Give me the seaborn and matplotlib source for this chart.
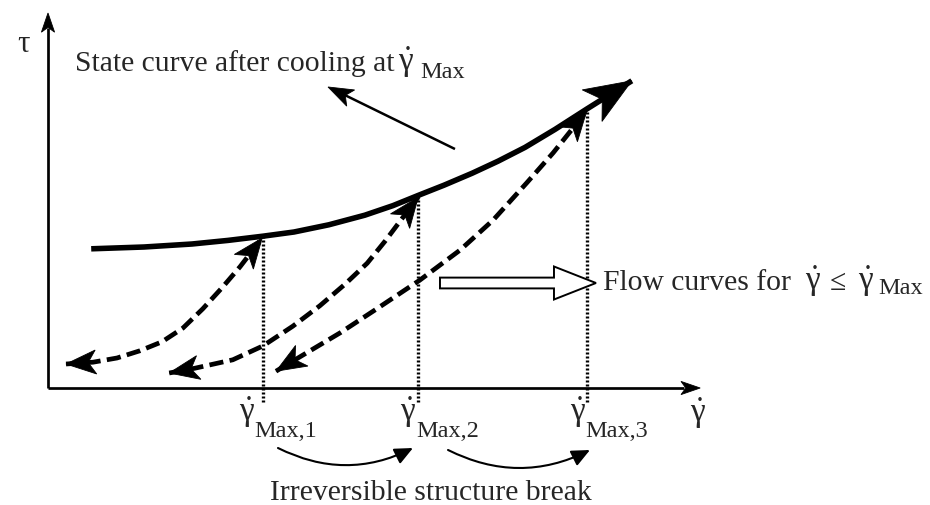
import numpy as np
import matplotlib
matplotlib.use("Agg")
import matplotlib.pyplot as plt
from matplotlib.patches import Polygon, FancyArrow
import seaborn as sns

# Shear-rate positions of the three maximum rates and their labels
gamma_max = [3.58, 6.17, 8.98]
gamma_max_labels = ["Max,1", "Max,2", "Max,3"]
gamma_max_label_x = [3.31, 6.00, 8.83]

# State curve after cooling at the maximum rate (shear rate, shear stress)
state_x = [0.72, 1.60, 2.40, 3.00, 3.58, 4.10, 4.68, 5.28, 5.75, 6.17,
           6.60, 7.07, 7.50, 7.95, 8.45, 8.98, 9.73]
state_y = [2.32, 2.35, 2.40, 2.46, 2.53, 2.60, 2.72, 2.88, 3.04, 3.21,
           3.38, 3.58, 3.78, 4.01, 4.31, 4.65, 5.12]

# Flow curves, each running from the low-rate end up to its maximum rate
flow1_x = [0.30, 0.75, 1.15, 1.53, 1.90, 2.25, 2.58, 2.90, 3.20, 3.40, 3.57]
flow1_y = [0.40, 0.43, 0.50, 0.62, 0.77, 1.00, 1.32, 1.67, 2.02, 2.28, 2.50]
flow2_x = [2.02, 2.45, 3.08, 3.58, 4.08, 4.53, 4.95, 5.32, 5.62, 5.92, 6.17]
flow2_y = [0.25, 0.33, 0.47, 0.70, 1.03, 1.37, 1.73, 2.08, 2.45, 2.85, 3.18]
flow3_x = [3.80, 4.20, 4.87, 5.48, 6.20, 6.87, 7.42, 7.98, 8.42, 8.82, 8.98]
flow3_y = [0.28, 0.52, 0.92, 1.32, 1.80, 2.30, 2.80, 3.42, 3.92, 4.42, 4.62]
flow_curves = [(flow1_x, flow1_y), (flow2_x, flow2_y), (flow3_x, flow3_y)]

sns.set_theme(style="white")
plt.rcParams["font.family"] = ["Liberation Serif", "DejaVu Serif"]
plt.rcParams["mathtext.fontset"] = "custom"
plt.rcParams["mathtext.rm"] = "Liberation Serif"
plt.rcParams["mathtext.it"] = "Liberation Serif:italic"
plt.rcParams["mathtext.bf"] = "Liberation Serif:bold"
plt.rcParams["mathtext.fallback"] = "stix"

fig = plt.figure(figsize=(9.3, 5.05), dpi=100)
ax = fig.add_axes([0, 0, 1, 1])
ax.set_xlim(-0.8, 14.7)
ax.set_ylim(-1.95, 6.4667)
ax.axis("off")

INK = "black"
T = 21.3   # main text size
G = 24.0   # size of the shear-rate symbol
S = 17.5   # subscript size
GDOT = r"$\dot{\mathrm{\gamma}}$"


def head(tip, prev, length, half, notch, z=4):
    """Filled stealth-style arrowhead pointing from prev towards tip."""
    tip = np.asarray(tip, float)
    prev = np.asarray(prev, float)
    u = tip - prev
    u /= np.hypot(*u)
    n = np.array([-u[1], u[0]])
    base = tip - length * u
    pts = [tip, base + half * n, tip - (length - notch) * u, base - half * n]
    ax.add_patch(Polygon(pts, closed=True, fc=INK, ec=INK, lw=0.6, zorder=z))


def gamma_dot(xc, y):
    """Shear-rate symbol centred on xc, sitting on baseline y."""
    ax.text(xc, y, GDOT, fontsize=G, ha="center", va="baseline")


# Coordinate axes with arrowheads
ax.plot([0, 0], [0, 6.0], color=INK, lw=1.95, solid_capstyle="butt")
ax.plot([0, 10.6], [0, 0], color=INK, lw=1.95, solid_capstyle="butt")
head((0, 6.25), (0, 5.0), 0.32, 0.11, 0.08)
head((10.87, 0), (9.0, 0), 0.32, 0.11, 0.08)

# Dotted guides from each maximum rate up to the state curve
for gx in gamma_max:
    gy = state_y[state_x.index(gx)]
    ax.plot([gx, gx], [-0.23, gy], color=INK, lw=2.4,
            linestyle=(0, (0.6, 0.6)), dash_capstyle="butt", zorder=2)

# State curve
sns.lineplot(x=state_x, y=state_y, ax=ax, color=INK, lw=4.0, sort=False,
             estimator=None, solid_capstyle="butt", solid_joinstyle="round",
             zorder=3)
head((state_x[-1], state_y[-1]), (state_x[-2], state_y[-2]), 0.78, 0.31, 0.2)

# Dashed flow curves with arrowheads at both ends
for fx, fy in flow_curves:
    sns.lineplot(x=fx, y=fy, ax=ax, color=INK, lw=3.4, sort=False,
                 estimator=None, linestyle=(0, (3.0, 1.35)),
                 dash_joinstyle="round", zorder=3)
    head((fx[0], fy[0]), (fx[1], fy[1]), 0.5, 0.2, 0.13)
    head((fx[-1], fy[-1]), (fx[-2], fy[-2]), 0.5, 0.2, 0.13)

# Axis symbols
ax.text(-0.52, 5.6, "τ", fontsize=T + 1, ha="left", va="baseline")
gamma_dot(10.83, -0.567)

# Maximum-rate labels under the axis
for lx, lab in zip(gamma_max_label_x, gamma_max_labels):
    gamma_dot(lx, -0.55)
    ax.text(lx + 0.13, -0.817, lab, fontsize=S, ha="left", va="baseline")

# State-curve annotation
ax.text(0.45, 5.283, "State curve after cooling at", fontsize=T,
        ha="left", va="baseline")
gamma_dot(5.97, 5.283)
ax.text(6.2, 5.167, "Max", fontsize=S, ha="left", va="baseline")
ax.plot([6.783, 4.85], [3.983, 4.93], color=INK, lw=1.8, solid_capstyle="butt")
head((4.667, 5.017), (6.783, 3.983), 0.42, 0.15, 0.1)

# Hollow block arrow pointing to the flow-curve label
ax.add_patch(FancyArrow(6.533, 1.75, 2.6, 0.0, width=0.18, head_width=0.55,
                        head_length=0.7, length_includes_head=True,
                        fc="white", ec=INK, lw=1.4, zorder=5))
ax.text(9.25, 1.633, "Flow curves for", fontsize=T, ha="left", va="baseline")
gamma_dot(12.75, 1.633)
ax.text(13.033, 1.633, "≤", fontsize=T, ha="left", va="baseline")
gamma_dot(13.633, 1.633)
ax.text(13.83, 1.567, "Max", fontsize=S, ha="left", va="baseline")

# Curved arrows between successive maximum rates
for (xa, ya), (xb, yb) in [((3.833, -1.0), (6.083, -1.0)),
                           ((6.667, -1.033), (9.033, -1.033))]:
    ax.annotate("", xy=(xb, yb), xytext=(xa, ya),
                arrowprops=dict(arrowstyle="-|>,head_length=0.55,head_width=0.25",
                                connectionstyle="arc3,rad=0.25", lw=1.5,
                                color=INK, shrinkA=0, shrinkB=0,
                                mutation_scale=20))
ax.text(3.7, -1.867, "Irreversible structure break", fontsize=T,
        ha="left", va="baseline")

fig.savefig("out.png", dpi=100)
